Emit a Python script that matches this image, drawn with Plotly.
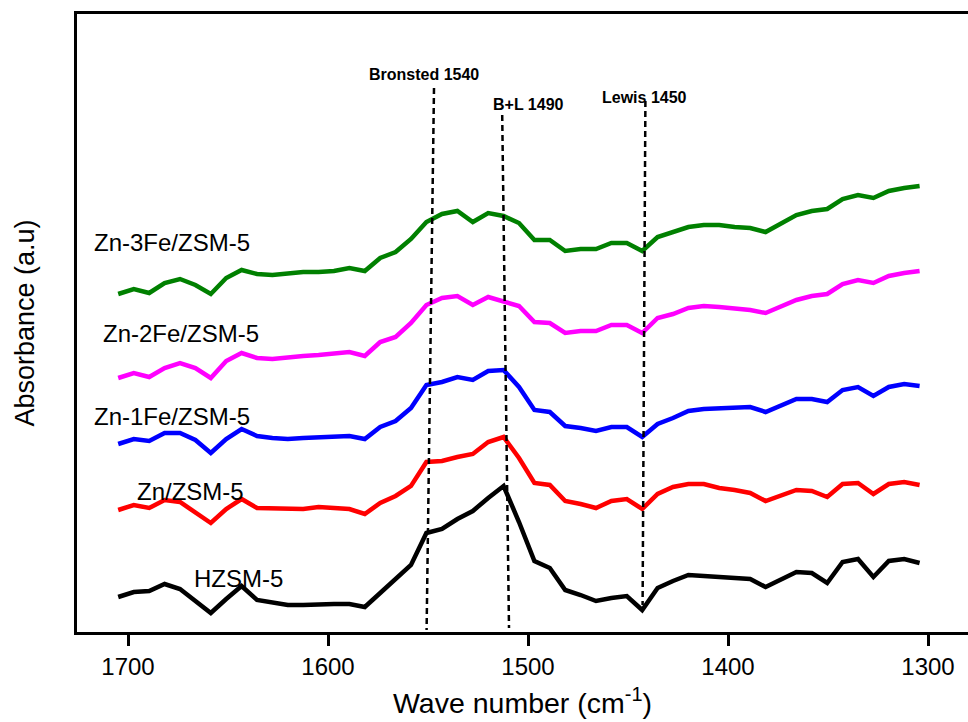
import plotly.graph_objects as go

# Wavenumber grid (cm-1)
wavenumber = [
    1704.9, 1697.1, 1689.4, 1681.7, 1674.0, 1666.3, 1658.6, 1650.9, 1643.2, 1635.5,
    1627.8, 1620.1, 1612.4, 1604.7, 1597.0, 1589.3, 1581.6, 1573.9, 1566.2, 1558.5,
    1550.8, 1543.0, 1535.3, 1527.6, 1519.9, 1512.2, 1504.5, 1496.8, 1489.1, 1481.4,
    1473.7, 1466.0, 1458.3, 1450.6, 1442.9, 1435.2, 1427.5, 1419.8, 1412.1, 1404.4,
    1396.7, 1388.9, 1381.2, 1373.5, 1365.8, 1358.1, 1350.4, 1342.7, 1335.0, 1327.3,
    1319.6, 1311.9, 1304.2,
]

# Pyridine-IR absorbance (a.u., stacked with offsets)
zn3fe = [
    3.38, 3.43, 3.39, 3.49, 3.53, 3.47, 3.38, 3.54, 3.62, 3.58,
    3.57, 3.59, 3.60, 3.60, 3.61, 3.64, 3.61, 3.74, 3.80, 3.93,
    4.10, 4.18, 4.21, 4.10, 4.19, 4.16, 4.09, 3.92, 3.92, 3.81,
    3.83, 3.83, 3.89, 3.89, 3.81, 3.95, 4.00, 4.05, 4.07, 4.07,
    4.05, 4.04, 4.00, 4.08, 4.17, 4.21, 4.23, 4.33, 4.37, 4.34,
    4.41, 4.44, 4.46,
]
zn2fe = [
    2.54, 2.59, 2.55, 2.64, 2.69, 2.64, 2.54, 2.71, 2.79, 2.74,
    2.73, 2.75, 2.76, 2.77, 2.78, 2.80, 2.76, 2.90, 2.95, 3.09,
    3.27, 3.34, 3.36, 3.27, 3.35, 3.31, 3.26, 3.10, 3.09, 2.99,
    3.01, 3.01, 3.07, 3.07, 2.99, 3.14, 3.18, 3.24, 3.26, 3.25,
    3.24, 3.22, 3.19, 3.26, 3.32, 3.36, 3.38, 3.48, 3.52, 3.49,
    3.56, 3.59, 3.61,
]
zn1fe = [
    1.88, 1.93, 1.91, 1.99, 1.99, 1.92, 1.79, 1.93, 2.03, 1.96,
    1.94, 1.93, 1.94, 1.95, 1.96, 1.96, 1.93, 2.05, 2.11, 2.24,
    2.47, 2.50, 2.55, 2.52, 2.61, 2.62, 2.45, 2.22, 2.20, 2.06,
    2.04, 2.01, 2.05, 2.05, 1.95, 2.08, 2.14, 2.21, 2.23, 2.24,
    2.25, 2.25, 2.20, 2.26, 2.33, 2.33, 2.30, 2.42, 2.45, 2.36,
    2.45, 2.48, 2.46,
]
zn = [
    1.22, 1.27, 1.24, 1.32, 1.30, 1.20, 1.09, 1.23, 1.33, 1.24,
    1.24, 1.23, 1.23, 1.25, 1.24, 1.23, 1.18, 1.29, 1.36, 1.46,
    1.70, 1.71, 1.75, 1.78, 1.90, 1.95, 1.74, 1.49, 1.47, 1.31,
    1.28, 1.24, 1.31, 1.33, 1.23, 1.38, 1.45, 1.48, 1.48, 1.44,
    1.42, 1.39, 1.31, 1.36, 1.42, 1.41, 1.35, 1.48, 1.49, 1.38,
    1.48, 1.50, 1.47,
]
hzsm = [
    0.35, 0.40, 0.41, 0.48, 0.43, 0.31, 0.19, 0.33, 0.46, 0.32,
    0.30, 0.27, 0.27, 0.28, 0.28, 0.28, 0.25, 0.39, 0.53, 0.67,
    0.99, 1.03, 1.13, 1.21, 1.34, 1.46, 1.10, 0.71, 0.64, 0.42,
    0.37, 0.31, 0.34, 0.36, 0.22, 0.44, 0.51, 0.57, 0.56, 0.55,
    0.54, 0.53, 0.45, 0.53, 0.60, 0.59, 0.49, 0.70, 0.73, 0.55,
    0.71, 0.73, 0.69,
]

series_names = ["Zn-3Fe/ZSM-5", "Zn-2Fe/ZSM-5", "Zn-1Fe/ZSM-5", "Zn/ZSM-5", "HZSM-5"]
series_values = [zn3fe, zn2fe, zn1fe, zn, hzsm]
series_colors = ["#008000", "#ff00ff", "#0000ff", "#ff0000", "#000000"]
# label anchor (wavenumber, absorbance) for each series name
label_x = [1678, 1673.5, 1678, 1669, 1645]
label_y = [3.90, 2.99, 2.16, 1.41, 0.54]

# Acid-site marker lines: name, wavenumber at top / bottom, absorbance top / bottom
site_names = ["Bronsted 1540", "B+L 1490", "Lewis 1450"]
site_x_top = [1547.0, 1512.9, 1441.3]
site_x_bottom = [1550.7, 1509.5, 1442.7]
site_y_top = [5.44, 5.17, 5.31]
site_y_bottom = [0.02, 0.04, 0.27]
site_label_x = [1552, 1500, 1442]
site_label_y = [5.58, 5.28, 5.35]

x_ticks = [1700, 1600, 1500, 1400, 1300]

FONT = "Liberation Sans, Arial, sans-serif"

fig = go.Figure()

for name, vals, col in zip(series_names, series_values, series_colors):
    fig.add_trace(go.Scatter(
        x=wavenumber, y=vals, mode="lines", name=name,
        line=dict(color=col, width=4.5), showlegend=False,
    ))

for xt, xb, yt, yb in zip(site_x_top, site_x_bottom, site_y_top, site_y_bottom):
    fig.add_shape(type="line", x0=xt, y0=yt, x1=xb, y1=yb, xref="x", yref="y",
                  line=dict(color="black", width=2.5, dash="6px,4px"))

for name, lx, ly in zip(series_names, label_x, label_y):
    fig.add_annotation(x=lx, y=ly, xref="x", yref="y", text=name, showarrow=False,
                       font=dict(family=FONT, size=24, color="black"))

for name, lx, ly in zip(site_names, site_label_x, site_label_y):
    fig.add_annotation(x=lx, y=ly, xref="x", yref="y", text="<b>%s</b>" % name, showarrow=False,
                       font=dict(family=FONT, size=16, color="black"))

fig.update_layout(
    width=968, height=722,
    margin=dict(l=77, r=0, t=14, b=90),
    paper_bgcolor="white", plot_bgcolor="white",
    font=dict(family=FONT, color="black"),
    xaxis=dict(
        range=[1725.5, 1280], tickvals=x_ticks, ticks="outside", ticklen=11, tickwidth=3,
        tickcolor="black", showline=True, linewidth=3, linecolor="black", mirror=True,
        showgrid=False, zeroline=False,
        tickfont=dict(family=FONT, size=24, color="black"),
        title=dict(text="Wave number (cm<sup>-1</sup>)", font=dict(family=FONT, size=28.5, color="black"),
                   standoff=15),
        automargin=False,
    ),
    yaxis=dict(
        range=[0, 6.18], showticklabels=False, ticks="", showline=True, linewidth=3,
        linecolor="black", showgrid=False, zeroline=False,
        title=dict(text="Absorbance (a.u)", font=dict(family=FONT, size=27, color="black"), standoff=32),
        automargin=False,
    ),
)

fig.write_html("out.html")
